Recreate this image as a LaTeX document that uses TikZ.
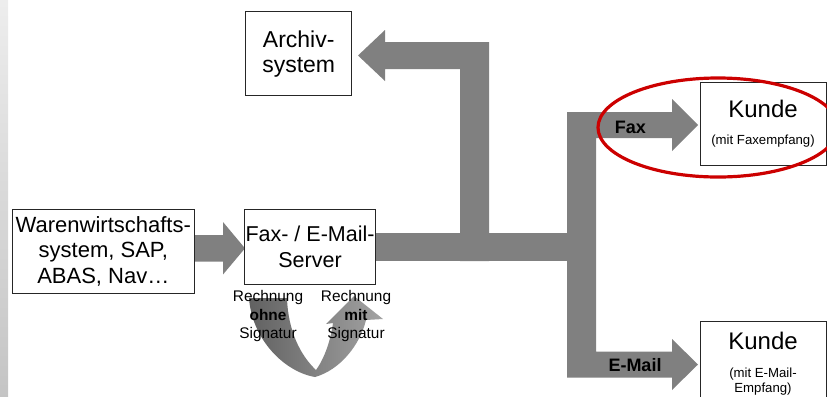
\documentclass[tikz,border=0pt]{standalone}
\usepackage{fontspec}
\setmainfont{Liberation Sans}
\definecolor{flowgray}{HTML}{808080}
\definecolor{ringred}{HTML}{CC0000}
\begin{document}
\begin{tikzpicture}[x=1bp,y=-1bp,
  box/.style={draw=black!85, line width=0.9bp, fill=white, inner sep=0pt, align=center},
  bigtext/.style={font=\fontsize{22bp}{25.5bp}\selectfont},
  flow/.style={fill=flowgray, draw=none},
  smalltext/.style={font=\fontsize{15.4bp}{18.5bp}\selectfont, align=center, inner sep=0pt, anchor=north},
  tinytext/.style={font=\fontsize{13.2bp}{15bp}\selectfont, inner sep=0pt, anchor=base},
  kundetext/.style={font=\fontsize{24bp}{27bp}\selectfont, inner sep=0pt, anchor=base},
  flowlabel/.style={font=\bfseries\fontsize{18bp}{20bp}\selectfont, inner sep=0pt, anchor=base}
]
\useasboundingbox (0,0) rectangle (827,396);
% left grey strip
\shade[top color=black!7, bottom color=black!23] (0,0) rectangle (8,396);

% wide grey flow arrows
\fill[flow] (194,235) -- (223,235) -- (223,222) -- (245,248.3) -- (223,274.5) -- (223,261.5) -- (194,261.5) -- cycle;
\fill[flow] (375.7,233) rectangle (596,261);
\fill[flow] (460,261) -- (460,69) -- (385,69) -- (385,81) -- (358,55.5) -- (385,30) -- (385,42) -- (489,42) -- (489,261) -- cycle;
\fill[flow] (567,112) -- (672,112) -- (672,99) -- (698,125) -- (672,151) -- (672,138) -- (596,138)
  -- (596,351.7) -- (672,351.7) -- (672,339) -- (698,364.5) -- (672,390) -- (672,377.7) -- (567,377.7) -- cycle;

% curved signature arrow
\shade[left color=black!62, right color=black!36]
  (249,298) .. controls (252,340) and (285,372) .. (315,377)
  .. controls (340,370) and (360,345) .. (366,320)
  -- (383,319) -- (354,296) -- (326,324) -- (333,323)
  .. controls (330,345) and (322,362) .. (316,370)
  .. controls (300,355) and (288,330) .. (287,298) -- cycle;

% boxes
\node[box, font=\fontsize{23bp}{25bp}\selectfont, minimum width=106bp, minimum height=84bp] (archiv) at (298.7,53.7) {Archiv-\\system};
\node[box, bigtext, minimum width=182bp, minimum height=84.3bp] (waren) at (103.3,251.2) {Warenwirtschafts-\\system, SAP,\\ABAS, Nav…};
\node[box, font=\fontsize{21.5bp}{26.7bp}\selectfont, minimum width=131.4bp, minimum height=75.3bp] (server) at (310,246.7) {Fax- / E-Mail-\\Server};
\node[box, minimum width=126bp, minimum height=83bp] (kunde1) at (763,124.2) {};
\node[box, anchor=north west, minimum width=126bp, minimum height=90bp] (kunde2) at (700,320.7) {};

% box texts
\node[kundetext] (k1name) at (763,117.3) {Kunde};
\node[tinytext] (k1sub) at (763,144.3) {(mit Faxempfang)};
\node[kundetext] (k2name) at (763,349) {Kunde};
\node[tinytext] (k2sub) at (763,377) {(mit E-Mail-};
\node[tinytext] (k2sub2) at (763,392) {Empfang)};

% signature labels
\node[smalltext] (ohne) at (268,290.5) {Rechnung\\\textbf{ohne}\\Signatur};
\node[smalltext] (mit) at (356,290.5) {Rechnung\\\textbf{mit}\\Signatur};

% flow labels
\node[flowlabel] (faxlabel) at (630.3,133.3) {Fax};
\node[flowlabel] (maillabel) at (635,371.7) {E-Mail};

% red highlight
\draw[ringred, line width=3.2bp] (718,127.5) ellipse (120 and 49.5);
\end{tikzpicture}
\end{document}
